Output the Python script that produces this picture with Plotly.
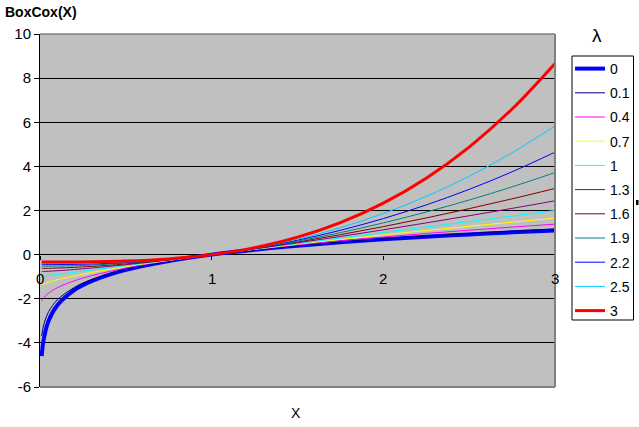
import plotly.graph_objects as go

x_vals = [0.01, 0.02, 0.05, 0.1, 0.2, 0.3, 0.5, 0.75, 1, 1.25, 1.5, 1.75, 2, 2.25, 2.5, 2.75, 3]
lambda_labels = ["0", "0.1", "0.4", "0.7", "1", "1.3", "1.6", "1.9", "2.2", "2.5", "3"]
x_ticks = [0, 1, 2, 3]
x_tick_labels = ["0", "1", "2", "3"]
y_ticks = [-6, -4, -2, 0, 2, 4, 6, 8, 10]
y_tick_labels = ["-6", "-4", "-2", "0", "2", "4", "6", "8", "10"]

y_lam_0 = [-4.605, -3.912, -2.996, -2.303, -1.609, -1.204, -0.693, -0.288, 0, 0.223, 0.405, 0.560, 0.693, 0.811, 0.916, 1.012, 1.099]
y_lam_0_1 = [-3.690, -3.238, -2.589, -2.057, -1.487, -1.134, -0.670, -0.284, 0, 0.226, 0.414, 0.576, 0.718, 0.845, 0.960, 1.065, 1.161]
y_lam_0_4 = [-2.104, -1.977, -1.746, -1.505, -1.187, -0.956, -0.605, -0.272, 0, 0.233, 0.440, 0.627, 0.799, 0.958, 1.107, 1.247, 1.380]
y_lam_0_7 = [-1.372, -1.336, -1.253, -1.144, -0.966, -0.814, -0.549, -0.261, 0, 0.242, 0.469, 0.685, 0.892, 1.092, 1.284, 1.472, 1.654]
y_lam_1 = [-0.99, -0.98, -0.95, -0.9, -0.8, -0.7, -0.5, -0.25, 0, 0.25, 0.5, 0.75, 1, 1.25, 1.5, 1.75, 2]
y_lam_1_3 = [-0.767, -0.764, -0.754, -0.731, -0.674, -0.608, -0.457, -0.240, 0, 0.259, 0.534, 0.823, 1.125, 1.438, 1.762, 2.096, 2.439]
y_lam_1_6 = [-0.625, -0.624, -0.620, -0.609, -0.577, -0.534, -0.419, -0.231, 0, 0.268, 0.571, 0.905, 1.270, 1.663, 2.083, 2.529, 3.000]
y_lam_1_9 = [-0.526, -0.526, -0.525, -0.520, -0.502, -0.473, -0.385, -0.222, 0, 0.278, 0.611, 0.998, 1.438, 1.931, 2.475, 3.071, 3.718]
y_lam_2_2 = [-0.455, -0.455, -0.454, -0.452, -0.441, -0.422, -0.356, -0.213, 0, 0.288, 0.655, 1.102, 1.634, 2.252, 2.958, 3.754, 4.642]
y_lam_2_5 = [-0.400, -0.400, -0.400, -0.399, -0.393, -0.380, -0.329, -0.205, 0, 0.299, 0.702, 1.221, 1.863, 2.638, 3.553, 4.616, 5.835]
y_lam_3 = [-0.333, -0.333, -0.333, -0.333, -0.331, -0.324, -0.292, -0.193, 0, 0.318, 0.792, 1.453, 2.333, 3.464, 4.875, 6.599, 8.667]

series = [y_lam_0, y_lam_0_1, y_lam_0_4, y_lam_0_7, y_lam_1, y_lam_1_3,
          y_lam_1_6, y_lam_1_9, y_lam_2_2, y_lam_2_5, y_lam_3]
colors = ["#0000FF", "#000080", "#FF00FF", "#FFFF00", "#00FFFF", "#800080",
          "#800000", "#008080", "#0000FF", "#00CCFF", "#FF0000"]
widths = [4, 1, 1, 1, 1, 1, 1, 1, 1, 1, 3]

FONT = "Liberation Sans, Arial, sans-serif"

# plot-area pixel geometry
L, R, T, B = 40, 555, 34, 387
PW, PH = R - L, B - T


def px(xp):
    return (xp - L) / PW


def py(yp):
    return (B - yp) / PH


fig = go.Figure()
for lab, ys, col, w in zip(lambda_labels, series, colors, widths):
    fig.add_trace(go.Scatter(
        x=x_vals, y=ys, mode="lines", name=lab, legendgroup=lab,
        line=dict(color=col, width=w, shape="spline", smoothing=1.0),
        hoverinfo="skip",
    ))

annotations = [
    dict(text="<b>BoxCox(X)</b>", xref="paper", yref="paper",
         x=px(3), y=py(12), xanchor="left", yanchor="middle",
         showarrow=False, font=dict(family=FONT, size=14)),
    dict(text="X", xref="paper", yref="paper",
         x=px(296), y=py(413), xanchor="center", yanchor="middle",
         showarrow=False, font=dict(family=FONT, size=14)),
    dict(text="λ", xref="paper", yref="paper",
         x=px(597), y=py(36), xanchor="center", yanchor="middle",
         showarrow=False, font=dict(family=FONT, size=19)),
]
for t, lbl in zip(x_ticks, x_tick_labels):
    annotations.append(dict(
        text=lbl, xref="x", yref="paper", x=t, y=py(278),
        xanchor="center", yanchor="middle", showarrow=False,
        font=dict(family=FONT, size=15),
    ))

fig.update_layout(
    width=639, height=427,
    margin=dict(l=L, r=639 - R, t=T, b=427 - B, autoexpand=False),
    paper_bgcolor="white",
    plot_bgcolor="#C0C0C0",
    font=dict(family=FONT, size=15, color="black"),
    showlegend=True,
    legend=dict(
        x=px(570), y=py(53), xanchor="left", yanchor="top",
        bgcolor="rgba(0,0,0,0)", borderwidth=0,
        font=dict(family=FONT, size=14, color="black"),
        tracegroupgap=3, itemwidth=30,
    ),
    xaxis=dict(
        range=[0, 3], tickvals=x_ticks, showticklabels=False,
        ticks="outside", ticklen=4, tickcolor="black",
        showgrid=False, zeroline=False, showline=False, automargin=False,
        anchor="free", position=0.375, side="bottom",
    ),
    yaxis=dict(
        range=[-6, 10], tickvals=y_ticks, ticktext=y_tick_labels,
        showgrid=True, gridcolor="black", gridwidth=1, automargin=False,
        zeroline=False, showline=True, linecolor="black", linewidth=1,
        ticks="outside", ticklen=5, tickcolor="black",
        tickfont=dict(family=FONT, size=15),
    ),
    shapes=[
        dict(type="line", xref="paper", yref="paper", x0=0, x1=1, y0=1, y1=1,
             line=dict(color="#808080", width=1.5), layer="above"),
        dict(type="line", xref="paper", yref="paper", x0=1, x1=1, y0=0, y1=1,
             line=dict(color="#808080", width=2), layer="above"),
        dict(type="line", xref="paper", yref="paper", x0=0, x1=1, y0=0, y1=0,
             line=dict(color="#808080", width=2), layer="above"),
        # legend frame
        dict(type="rect", xref="paper", yref="paper",
             x0=px(572), x1=px(633.5), y0=py(320), y1=py(56),
             fillcolor="white", line=dict(color="black", width=1), layer="above"),
        # small mark at right edge
        dict(type="rect", xref="paper", yref="paper",
             x0=px(636), x1=px(638.5), y0=py(205), y1=py(200),
             fillcolor="black", line=dict(width=0)),
    ],
    annotations=annotations,
)

fig.write_html(
    "out.html",
    config={"displayModeBar": False, "staticPlot": True},
    post_script="document.body.style.margin='0';document.body.style.padding='0';",
)
